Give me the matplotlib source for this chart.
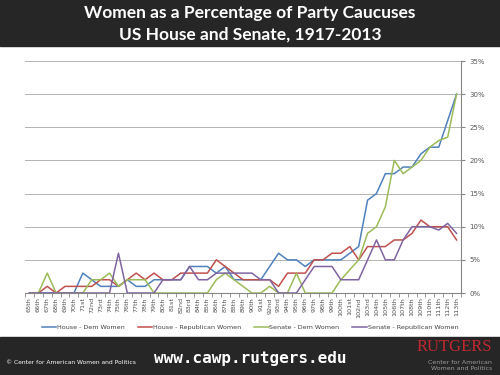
import matplotlib.pyplot as plt
import numpy as np
from matplotlib.patches import Rectangle
from matplotlib.ticker import FuncFormatter

# congress labels (65th = 1917, 113th = 2013)
congresses = ['65th', '66th', '67th', '68th', '69th', '70th', '71st', '72nd', '73rd', '74th',
              '75th', '76th', '77th', '78th', '79th', '80th', '81st', '82nd', '83rd', '84th',
              '85th', '86th', '87th', '88th', '89th', '90th', '91st', '92nd', '93rd', '94th',
              '95th', '96th', '97th', '98th', '99th', '100th', '101st', '102nd', '103rd', '104th',
              '105th', '106th', '107th', '108th', '109th', '110th', '111th', '112th', '113th']

# percent of caucus that are women
house_dem = [0, 0, 0, 0, 0, 0, 3, 2, 1, 1,
             1, 2, 1, 1, 2, 2, 2, 2, 4, 4,
             4, 3, 4, 2, 2, 2, 2, 4, 6, 5,
             5, 4, 5, 5, 5, 5, 6, 7, 14, 15,
             18, 18, 19, 19, 21, 22, 22, 26, 30]
house_rep = [0, 0, 1, 0, 1, 1, 1, 1, 2, 2,
             1, 2, 3, 2, 3, 2, 2, 3, 3, 3,
             3, 5, 4, 3, 2, 2, 2, 2, 1, 3,
             3, 3, 5, 5, 6, 6, 7, 5, 7, 7,
             7, 8, 8, 9, 11, 10, 10, 10, 8]
senate_dem = [0, 0, 3, 0, 0, 0, 0, 2, 2, 3,
              1, 2, 2, 2, 0, 0, 0, 0, 0, 0,
              0, 2, 3, 2, 1, 0, 0, 1, 0, 0,
              3, 0, 0, 0, 0, 2, 3.5, 5, 9, 10,
              13, 20, 18, 19, 20, 22, 23, 23.5, 30]
senate_rep = [0, 0, 0, 0, 0, 0, 0, 0, 0, 0,
              6, 0, 0, 0, 0, 2, 2, 2, 4, 2,
              2, 3, 3, 3, 3, 3, 2, 2, 0, 0,
              0, 2, 4, 4, 4, 2, 2, 2, 5, 8,
              5, 5, 8, 10, 10, 10, 9.5, 10.5, 9]

series = [
    ('House - Dem Women', house_dem, '#4F81BD'),
    ('House - Republican Women', house_rep, '#C0504D'),
    ('Senate - Dem Women', senate_dem, '#9BBB59'),
    ('Senate - Republican Women', senate_rep, '#8064A2'),
]

fig = plt.figure(figsize=(5, 3.75), dpi=100)
fig.patch.set_facecolor('white')

# dark header and footer bands
fig.patches.append(Rectangle((0, 1 - 46 / 375), 1, 46 / 375, transform=fig.transFigure,
                             color='#262626', zorder=0))
fig.patches.append(Rectangle((0, 0), 1, 38 / 375, transform=fig.transFigure,
                             color='#262626', zorder=0))

fig.text(0.5, 1 - 13 / 375, 'Women as a Percentage of Party Caucuses', color='white',
         fontsize=12.5, fontweight='bold', family='Lato', ha='center', va='center')
fig.text(0.5, 1 - 35 / 375, 'US House and Senate, 1917-2013', color='white',
         fontsize=12.5, fontweight='bold', family='Lato', ha='center', va='center')

ax = fig.add_axes([25 / 500, 1 - 293 / 375, 436 / 500, 232 / 375])
x = np.arange(len(congresses))
for name, vals, col in series:
    ax.plot(x, np.array(vals) / 100, color=col, lw=1.1, label=name, zorder=3)

ax.set_xlim(-0.5, len(congresses) - 0.5)
ax.set_ylim(0, 0.35)
ax.set_yticks(np.arange(0, 0.36, 0.05))
ax.yaxis.set_major_formatter(FuncFormatter(lambda v, p: '%d%%' % round(v * 100)))
ax.yaxis.tick_right()
ax.tick_params(axis='y', length=3, color='#868686', labelsize=5, labelcolor='#595959', pad=3)
ax.grid(axis='y', color='#b3b3b3', lw=0.7)
ax.set_axisbelow(True)

ax.set_xticks(x)
ax.set_xticklabels(congresses, rotation=90, fontsize=4.6, color='#505050')
ax.set_xticks(np.arange(-0.5, len(congresses), 1), minor=True)
ax.tick_params(axis='x', which='major', length=0, pad=3)
ax.tick_params(axis='x', which='minor', length=3, color='#868686')

for s in ['left', 'top']:
    ax.spines[s].set_visible(False)
for s in ['right', 'bottom']:
    ax.spines[s].set_color('#868686')
    ax.spines[s].set_linewidth(0.8)

fig.legend(loc='center', bbox_to_anchor=(0.5, 1 - 327 / 375), ncol=4, frameon=False,
           fontsize=4.6, handlelength=2.3, columnspacing=2.0, handletextpad=0.1,
           labelcolor='#404040')

# footer
fig.text(0.5, 1 - 358 / 375, 'www.cawp.rutgers.edu', color='white', fontsize=11.5,
         fontweight='bold', family='DejaVu Sans Mono', ha='center', va='center')
fig.text(6 / 500, 1 - 362 / 375, '\u00a9 Center for American Women and Politics',
         color='white', fontsize=4.3, ha='left', va='center')
fig.text(492 / 500, 1 - 347 / 375, 'RUTGERS', color='#c0282f', fontsize=12,
         family='Liberation Serif', ha='right', va='center')
fig.text(492 / 500, 1 - 362 / 375, 'Center for American', color='#9a9a9a', fontsize=4.5,
         ha='right', va='center')
fig.text(492 / 500, 1 - 369 / 375, 'Women and Politics', color='#9a9a9a', fontsize=4.5,
         ha='right', va='center')

fig.savefig('out.png', dpi=100)
